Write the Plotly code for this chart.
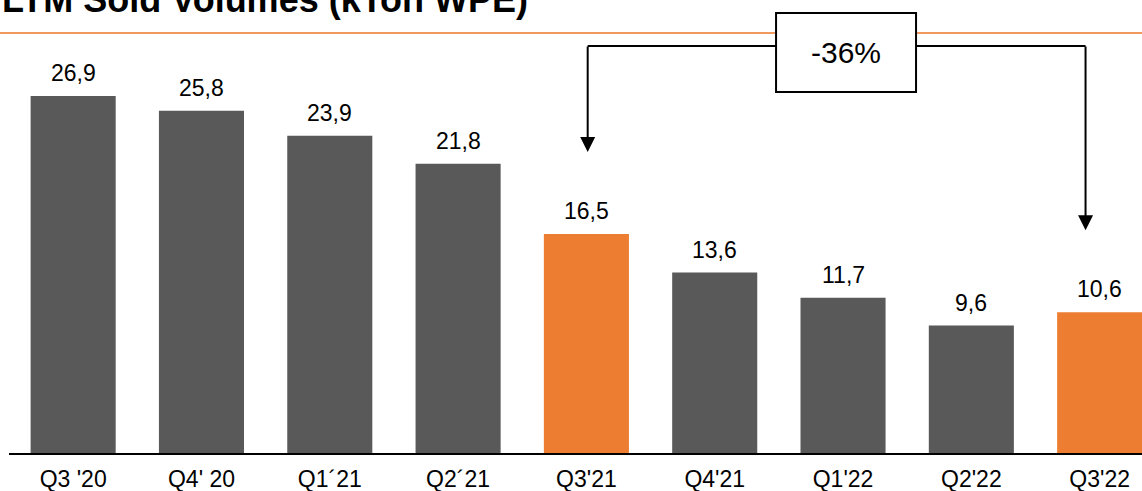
import plotly.graph_objects as go

# LTM sold volumes per quarter (kTon WPE)
quarters = ["Q3 '20", "Q4' 20", "Q1´21", "Q2´21", "Q3'21", "Q4'21", "Q1'22", "Q2'22", "Q3'22"]
volumes = [26.9, 25.8, 23.9, 21.8, 16.5, 13.6, 11.7, 9.6, 10.6]
highlight = [False, False, False, False, True, False, False, False, True]
change_label = "-36%"
title_text = "LTM Sold Volumes (kTon WPE)"

GRAY = "#595959"
ORANGE = "#ED7D31"
RULE = "#F19A5E"
FONT = "Liberation Sans, Arial, sans-serif"

W, H = 1142, 491
ML, MR, MT, MB = 9, 0, 0, 38
X_RANGE = [-0.5, 8.33]
Y_RANGE = [0, 34.14]
plot_h = H - MT - MB
px_per_unit = plot_h / (Y_RANGE[1] - Y_RANGE[0])


def fmt(v):
    return f"{v:.1f}".replace(".", ",")


colors = [ORANGE if h else GRAY for h in highlight]
idx = list(range(len(quarters)))

fig = go.Figure(
    go.Bar(
        x=idx,
        y=volumes,
        marker=dict(color=colors, line=dict(width=0)),
        width=0.663,
        hoverinfo="skip",
    )
)

annotations = []
# value labels above each bar
for i, v in zip(idx, volumes):
    annotations.append(dict(
        x=i, y=v, xref="x", yref="y", text=fmt(v), showarrow=False,
        yanchor="middle", yshift=23,
        font=dict(family=FONT, size=23, color="#000000"),
    ))

# comparison bracket between the two highlighted quarters
hl = [i for i, h in zip(idx, highlight) if h]
left_i, right_i = hl[0], hl[-1]
left_x = left_i + 0.01
right_x = right_i - 0.11
bracket_y = 30.67
box_x0, box_x1 = 5.478, 6.569
box_y0, box_y1 = 27.2, 33.16
tip_offset = 82 / px_per_unit

shapes = [
    # thin orange rule under the heading
    dict(type="line", xref="paper", yref="paper", x0=-0.01, x1=1.0,
         y0=(plot_h - 33) / plot_h, y1=(plot_h - 33) / plot_h,
         line=dict(color=RULE, width=2), layer="above"),
    # horizontal connector
    dict(type="line", xref="x", yref="y", x0=left_x, x1=right_x,
         y0=bracket_y, y1=bracket_y, line=dict(color="#000000", width=2), layer="above"),
    # label box
    dict(type="rect", xref="x", yref="y", x0=box_x0, x1=box_x1,
         y0=box_y0, y1=box_y1, fillcolor="#FFFFFF",
         line=dict(color="#000000", width=2), layer="above"),
]

for xi, i in ((left_x, left_i), (right_x, right_i)):
    annotations.append(dict(
        x=xi, y=volumes[i] + tip_offset, xref="x", yref="y",
        ax=xi, ay=bracket_y + 0.08, axref="x", ayref="y",
        text="", showarrow=True, arrowhead=2, arrowsize=1.5,
        arrowwidth=2, arrowcolor="#000000", standoff=0,
    ))

annotations.append(dict(
    x=(box_x0 + box_x1) / 2, y=(box_y0 + box_y1) / 2, xref="x", yref="y",
    text=change_label, showarrow=False, xanchor="center", yanchor="middle",
    font=dict(family=FONT, size=30, color="#000000"),
))

# heading
annotations.append(dict(
    x=-9 / (W - ML - MR), y=1, xref="paper", yref="paper",
    text=f"<b>{title_text}</b>", showarrow=False,
    xanchor="left", yanchor="middle", yshift=1,
    font=dict(family=FONT, size=36, color="#000000"),
))

fig.update_layout(
    width=W, height=H,
    margin=dict(l=ML, r=MR, t=MT, b=MB, pad=0),
    paper_bgcolor="#FFFFFF", plot_bgcolor="#FFFFFF",
    showlegend=False,
    shapes=shapes,
    annotations=annotations,
    xaxis=dict(
        range=X_RANGE, tickmode="array", tickvals=idx, ticktext=quarters,
        showgrid=False, zeroline=False, showline=True, linecolor="#000000",
        linewidth=2, ticks="", automargin=False, ticklabelstandoff=4,
        tickfont=dict(family=FONT, size=23, color="#000000"),
    ),
    yaxis=dict(
        range=Y_RANGE, visible=False, showgrid=False, zeroline=False,
        automargin=False,
    ),
)

fig.write_html("out.html", config={"displayModeBar": False})
